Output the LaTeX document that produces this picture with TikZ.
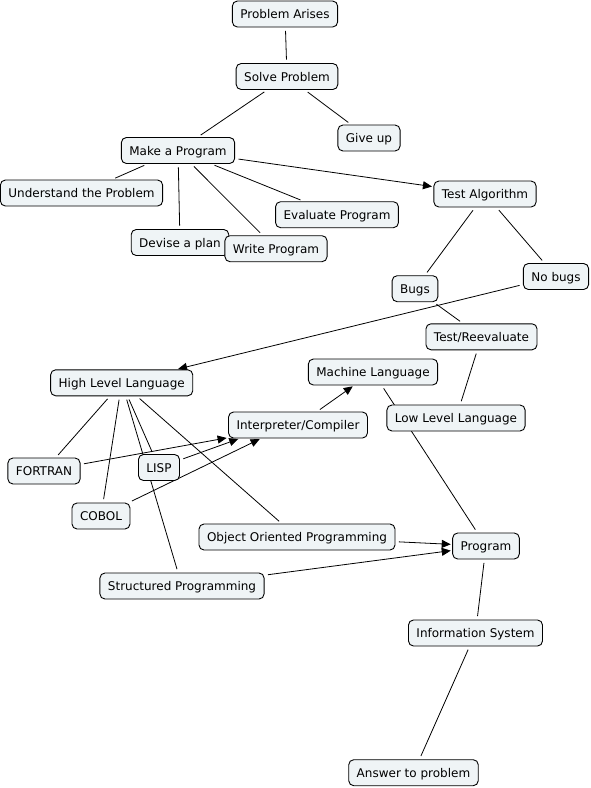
\documentclass[tikz,border=0pt]{standalone}
\usepackage{fontspec}
\setmainfont{DejaVu Sans}
\usetikzlibrary{arrows.meta,backgrounds}
\definecolor{conceptfill}{RGB}{239,244,246}
\tikzset{
  concept/.style={draw,fill=conceptfill,rounded corners=5pt,line width=0.9pt,
    inner xsep=8pt,minimum height=26pt,text height=11pt,text depth=2pt,
    font=\fontsize{12}{14}\selectfont},
  link/.style={line width=0.8pt,shorten <=3.5pt,shorten >=3.5pt},
  linkto/.style={link,-{Triangle[length=9pt,width=8pt]},shorten >=1.5pt}
}
\begin{document}
\begin{tikzpicture}[x=1pt,y=-1pt]
% Problem solving with programs
\useasboundingbox (0,0) rectangle (591,788);
\node[concept] (arises) at (285,14) {Problem Arises};
\node[concept] (solve) at (287,76.5) {Solve Problem};
\node[concept] (giveup) at (369,138) {Give up};
\node[concept] (makeprog) at (178,150.5) {Make a Program};
\node[concept] (understand) at (81.5,193) {Understand the Problem};
\node[concept] (evaluate) at (337,214.7) {Evaluate Program};
\node[concept] (devise) at (180,242.5) {Devise a plan};
\node[concept] (writeprog) at (276,248.7) {Write Program};
\node[concept] (testalg) at (485,194) {Test Algorithm};
\node[concept] (nobugs) at (556,276.5) {No bugs};
\node[concept] (bugs) at (415,288.7) {Bugs};
\node[concept] (retest) at (481.5,336.8) {Test/Reevaluate};
\node[concept] (machine) at (373,372) {Machine Language};
\node[concept] (highlevel) at (121.7,382.8) {High Level Language};
\node[concept] (lowlevel) at (456,418) {Low Level Language};
\node[concept] (interp) at (298,425) {Interpreter/Compiler};
\node[concept] (fortran) at (44,471) {FORTRAN};
\node[concept] (lisp) at (159,467.5) {LISP};
\node[concept] (cobol) at (101,516) {COBOL};
\node[concept] (oop) at (297,537) {Object Oriented Programming};
\node[concept] (program) at (486,546) {Program};
\node[concept] (structured) at (182,586) {Structured Programming};
\node[concept] (infosys) at (475.5,633) {Information System};
\node[concept] (answer) at (413.5,772.7) {Answer to problem};
\begin{scope}[on background layer]
\fill[white] (0,0) rectangle (591,788);
\draw[link] (arises) -- (solve);
\draw[link] (solve) -- (makeprog);
\draw[link] (solve) -- (giveup);
\draw[link] (makeprog) -- (understand);
\draw[link] (makeprog) -- (devise);
\draw[link] (makeprog) -- (writeprog);
\draw[link] (makeprog) -- (evaluate);
\draw[linkto] (makeprog) -- (testalg);
\draw[link] (testalg) -- (bugs);
\draw[link] (testalg) -- (nobugs);
\draw[link] (bugs) -- (retest);
\draw[link] (retest) -- (lowlevel);
\draw[linkto] (nobugs) -- (highlevel);
\draw[link] (highlevel) -- (fortran);
\draw[link] (highlevel) -- (cobol);
\draw[link] (highlevel) -- (lisp);
\draw[link] (highlevel) -- (structured);
\draw[link] (highlevel) -- (oop);
\draw[linkto] (fortran) -- (interp);
\draw[linkto] (lisp) -- (interp.193);
\draw[linkto] (cobol) -- (interp.200);
\draw[linkto] (interp) -- (machine);
\draw[link] (machine) -- (program);
\draw[linkto] (oop) -- (program);
\draw[linkto] (structured) -- (program);
\draw[link] (program) -- (infosys);
\draw[link] (infosys) -- (answer);
\end{scope}
\end{tikzpicture}
\end{document}
